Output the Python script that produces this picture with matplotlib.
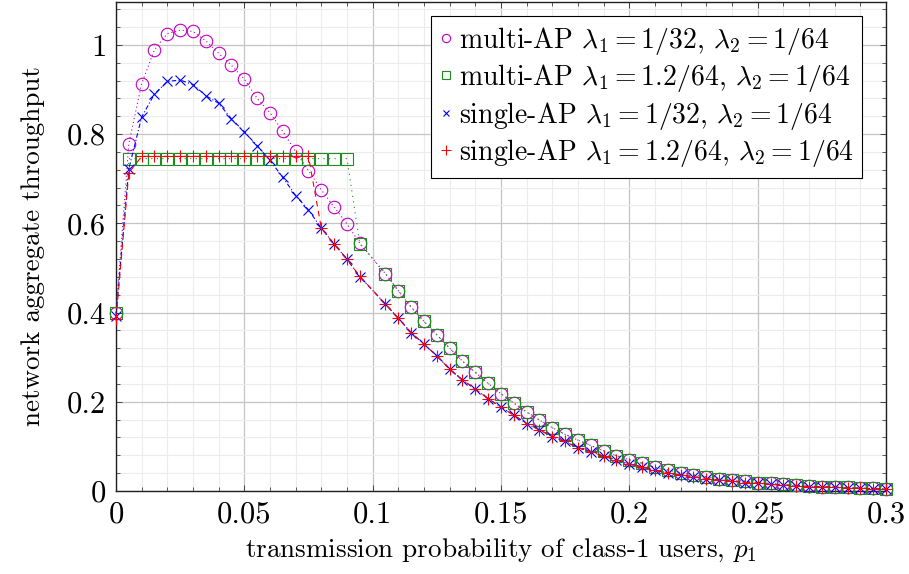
import numpy as np
import matplotlib
matplotlib.use("Agg")
import matplotlib.pyplot as plt
from matplotlib.ticker import MultipleLocator, FuncFormatter
from matplotlib.lines import Line2D

plt.rcParams['font.family'] = 'cmr10'
plt.rcParams['mathtext.fontset'] = 'cm'
plt.rcParams['axes.formatter.use_mathtext'] = True

# ---------------------------------------------------------------
# data (p1 = 0.1 is missing in the original)
p1 = [0.0, 0.005, 0.01, 0.015, 0.02, 0.025, 0.03, 0.035, 0.04, 0.045,
      0.05, 0.055, 0.06, 0.065, 0.07, 0.075, 0.08, 0.085, 0.09, 0.095,
      0.105, 0.11, 0.115, 0.12, 0.125, 0.13, 0.135, 0.14, 0.145, 0.15,
      0.155, 0.16, 0.165, 0.17, 0.175, 0.18, 0.185, 0.19, 0.195, 0.2,
      0.205, 0.21, 0.215, 0.22, 0.225, 0.23, 0.235, 0.24, 0.245, 0.25,
      0.255, 0.26, 0.265, 0.27, 0.275, 0.28, 0.285, 0.29, 0.295, 0.3]

# common tail (p1 >= 0.105) of the two multi-AP curves
multi_tail = [0.487, 0.449, 0.412, 0.380, 0.350, 0.320, 0.291, 0.266, 0.241, 0.218,
              0.197, 0.177, 0.159, 0.142, 0.127, 0.114, 0.102, 0.090, 0.079, 0.070,
              0.062, 0.053, 0.047, 0.041, 0.036, 0.032, 0.028, 0.025, 0.022, 0.019,
              0.017, 0.015, 0.013, 0.011, 0.010, 0.009, 0.008, 0.007, 0.006, 0.005]

# common tail (p1 >= 0.105) of the two single-AP curves
single_tail = [0.419, 0.387, 0.355, 0.329, 0.303, 0.273, 0.249, 0.228, 0.207, 0.188,
               0.170, 0.151, 0.137, 0.122, 0.111, 0.097, 0.088, 0.078, 0.070, 0.061,
               0.054, 0.046, 0.041, 0.036, 0.032, 0.028, 0.025, 0.022, 0.019, 0.017,
               0.015, 0.013, 0.011, 0.010, 0.009, 0.008, 0.007, 0.006, 0.005, 0.004]

multi_a = [0.400, 0.778, 0.913, 0.989, 1.025, 1.033, 1.030, 1.009, 0.981, 0.954,
           0.923, 0.880, 0.848, 0.806, 0.761, 0.718, 0.675, 0.636, 0.599, 0.555] + multi_tail

multi_b = [0.398, 0.745, 0.745, 0.745, 0.745, 0.745, 0.745, 0.745, 0.745, 0.745,
           0.745, 0.745, 0.745, 0.745, 0.745, 0.745, 0.745, 0.745, 0.745, 0.554] + multi_tail

single_a = [0.392, 0.722, 0.838, 0.890, 0.918, 0.921, 0.911, 0.886, 0.869, 0.834,
            0.805, 0.774, 0.741, 0.703, 0.662, 0.630, 0.589, 0.554, 0.519, 0.480] + single_tail

single_b = [0.385, 0.713, 0.750, 0.750, 0.750, 0.750, 0.750, 0.750, 0.750, 0.750,
            0.750, 0.750, 0.750, 0.750, 0.750, 0.750, 0.589, 0.553, 0.520, 0.481] + single_tail

labels = [r'multi-AP $\lambda_1 = 1/32$, $\lambda_2 = 1/64$',
          r'multi-AP $\lambda_1 = 1.2/64$, $\lambda_2 = 1/64$',
          r'single-AP $\lambda_1 = 1/32$, $\lambda_2 = 1/64$',
          r'single-AP $\lambda_1 = 1.2/64$, $\lambda_2 = 1/64$']

# ---------------------------------------------------------------
magenta = '#c000c0'
green = '#1f8a1f'
blue = '#0000ff'
red = '#ff0000'

fig = plt.figure(figsize=(9.09, 5.74), dpi=100)
ax = fig.add_axes([0.1276, 0.1446, 0.8471, 0.8519])

ax.plot(p1, multi_a, color=magenta, lw=0.8, ls=(0, (1, 2.5)), clip_on=False, zorder=3,
        marker='o', ms=9, mfc='none', mec=magenta, mew=0.8)
ax.plot(p1, multi_b, color=green, lw=0.8, ls=(0, (1, 4)), clip_on=False, zorder=3,
        marker='s', ms=8.5, mfc='none', mec=green, mew=0.8)
ax.plot(p1, single_a, color=blue, lw=0.8, ls=(0, (4, 2, 1, 2)), clip_on=False, zorder=3,
        marker='x', ms=6.5, mec=blue, mew=0.8)
ax.plot(p1, single_b, color=red, lw=0.8, ls=(0, (5, 4)), clip_on=False, zorder=3,
        marker='+', ms=9, mec=red, mew=0.8)

ax.set_xlim(0, 0.3)
ax.set_ylim(0, 1.096)

ax.xaxis.set_major_locator(MultipleLocator(0.05))
ax.xaxis.set_minor_locator(MultipleLocator(0.01))
ax.yaxis.set_major_locator(MultipleLocator(0.2))
ax.yaxis.set_minor_locator(MultipleLocator(0.04))
fmt = FuncFormatter(lambda v, pos: '%g' % round(v, 4))
ax.xaxis.set_major_formatter(fmt)
ax.yaxis.set_major_formatter(fmt)

ax.grid(which='major', color='#c4c4c4', lw=0.9)
ax.grid(which='minor', color='#ececec', lw=0.8)
ax.set_axisbelow(True)

ax.tick_params(which='both', direction='in', top=True, right=True,
               color='#404040', labelsize=22)
ax.tick_params(which='major', length=4.5, width=0.7, pad=7)
ax.tick_params(which='minor', length=3, width=0.6)
for s in ax.spines.values():
    s.set_linewidth(1.0)
    s.set_color('#202020')

ax.set_xlabel(r'transmission probability of class-1 users, $p_1$', fontsize=19.5, labelpad=6)
ax.set_ylabel('network aggregate throughput', fontsize=19.5, labelpad=16)

handles = [
    Line2D([], [], ls='none', marker='o', ms=6, mfc='none', mec=magenta, mew=0.8),
    Line2D([], [], ls='none', marker='s', ms=6, mfc='none', mec=green, mew=0.8),
    Line2D([], [], ls='none', marker='x', ms=4.5, mec=blue, mew=0.8),
    Line2D([], [], ls='none', marker='+', ms=6.5, mec=red, mew=0.8),
]
leg = ax.legend(handles, labels, loc='upper right', bbox_to_anchor=(0.969, 0.971),
                fontsize=20, frameon=True, fancybox=False, framealpha=1,
                edgecolor='black', handlelength=0.5, handletextpad=0.2,
                borderpad=0.3, labelspacing=0.2, borderaxespad=0)
leg.get_frame().set_linewidth(0.8)

fig.savefig('out.png', dpi=100)
